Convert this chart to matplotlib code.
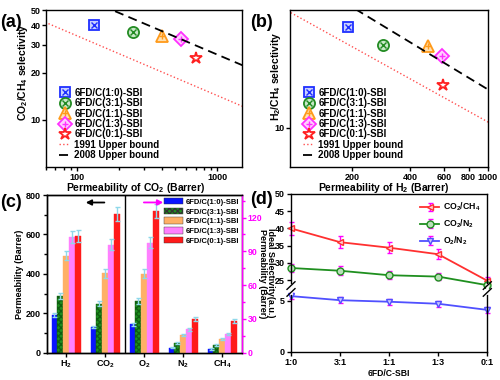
import matplotlib
matplotlib.use("Agg")
import matplotlib.pyplot as plt
import matplotlib.ticker as mticker
from matplotlib.patches import Patch
from matplotlib.lines import Line2D
import numpy as np

plt.rcParams.update({
    "font.family": ["Liberation Sans", "DejaVu Sans"],
    "font.weight": "bold",
    "axes.labelweight": "bold",
    "mathtext.fontset": "custom",
    "mathtext.rm": "Liberation Sans:bold",
    "mathtext.it": "Liberation Sans:bold",
    "mathtext.bf": "Liberation Sans:bold",
    "mathtext.default": "rm",
    "axes.linewidth": 1.0,
})

# --- data ---
samples = ["6FD/C(1:0)-SBI", "6FD/C(3:1)-SBI", "6FD/C(1:1)-SBI", "6FD/C(1:3)-SBI", "6FD/C(0:1)-SBI"]
ratios = ["1:0", "3:1", "1:1", "1:3", "0:1"]
gases = ["H$_2$", "CO$_2$", "O$_2$", "N$_2$", "CH$_4$"]

perm_h2 = [190, 290, 493, 585, 592]
perm_co2 = [132, 249, 402, 547, 703]
perm_o2 = [25.2, 46.0, 70.3, 97.6, 125.8]
perm_n2 = [4.4, 8.9, 16.0, 20.8, 30.0]
perm_ch4 = [3.3, 6.8, 11.9, 16.9, 28.2]
err_h2 = [10, 15, 25, 30, 30]
err_co2 = [6, 14, 22, 28, 35]
err_o2 = [1.5, 2.5, 4.0, 5.0, 6.5]
err_n2 = [0.6, 0.8, 1.0, 1.3, 1.5]
err_ch4 = [0.5, 0.6, 0.9, 1.0, 1.4]

sel_co2_ch4 = [40.0, 36.0, 34.4, 32.5, 24.8]
sel_h2_ch4 = [59.4, 43.5, 42.4, 35.6, 21.4]
sel_co2_n2 = [28.5, 27.7, 26.4, 26.0, 23.5]
sel_o2_n2 = [5.45, 5.05, 4.9, 4.7, 4.1]
err_co2_ch4 = [1.8, 1.7, 1.6, 1.5, 1.0]
err_co2_n2 = [1.3, 1.3, 1.2, 1.1, 0.8]
err_o2_n2 = [0.3, 0.3, 0.3, 0.3, 0.3]

# Robeson upper bounds (end points of the straight log-log lines)
ub1991_co2_x, ub1991_co2_y = [50, 2000], [44.6, 10.95]
ub2008_co2_x, ub2008_co2_y = [150, 2000], [53.4, 20.0]
ub1991_h2_x, ub1991_h2_y = [80, 1200], [89.5, 9.57]
ub2008_h2_x, ub2008_h2_y = [180, 1200], [93.0, 16.77]

# --- styles ---
mk_colors = ["#1f2fff", "#228b22", "#ff9a1a", "#ff30ff", "#ff2020"]
mk_faces = ["#c8d0ff", "#c8e8c8", "#ffe0b0", "#ffd0ff", "none"]
mk_base = ["s", "o", "^", "D", "*"]
mk_over = ["x", "x", "+", "+", None]
mk_size = [7, 8, 8, 7, 9]
bar_colors = ["#0a14ff", "#1f8f1f", "#ffb066", "#ff80ff", "#ff1a1a"]

fig = plt.figure(figsize=(5, 3.8), dpi=100)


def scatter_panel(ax, xs, ys, b91, b08):
    handles = []
    for i, name in enumerate(samples):
        h1, = ax.plot(xs[i], ys[i], ls="none", marker=mk_base[i], ms=mk_size[i],
                      mfc=mk_faces[i], mec=mk_colors[i], mew=1.3)
        hs = [h1]
        if mk_over[i]:
            h2, = ax.plot(xs[i], ys[i], ls="none", marker=mk_over[i], ms=mk_size[i] * 0.6,
                          mec=mk_colors[i], mew=1.0)
            hs.append(h2)
        handles.append(tuple(hs))
    l91, = ax.plot(b91[0], b91[1], ls=":", color="#ff5050", lw=1.0)
    l08, = ax.plot(b08[0], b08[1], color="black", lw=1.3, dashes=(5, 3))
    ax.set_xscale("log")
    ax.set_yscale("log")
    leg = ax.legend(handles + [l91, l08], samples + ["1991 Upper bound", "2008 Upper bound"],
                    loc="lower left", bbox_to_anchor=(0.03, 0.0), frameon=False, fontsize=7.0,
                    labelspacing=0.04, handlelength=1.2, handletextpad=0.4, borderaxespad=0.3)
    for t in leg.get_texts():
        t.set_fontweight("bold")
    ax.tick_params(which="both", direction="out", labelsize=6.5, width=1, length=3, pad=1.0)
    ax.tick_params(which="minor", length=2)
    for t in ax.get_xticklabels() + ax.get_yticklabels():
        t.set_fontweight("bold")


# (a)
ax_a = fig.add_axes([0.092, 0.5605, 0.392, 0.413])
scatter_panel(ax_a, perm_co2, sel_co2_ch4,
              (ub1991_co2_x, ub1991_co2_y), (ub2008_co2_x, ub2008_co2_y))
ax_a.set_xlim(60, 1500)
ax_a.set_ylim(5, 50)
ax_a.xaxis.set_major_locator(mticker.FixedLocator([100, 1000]))
ax_a.xaxis.set_major_formatter(mticker.FixedFormatter(["100", "1000"]))
ax_a.xaxis.set_minor_formatter(mticker.NullFormatter())
ax_a.yaxis.set_major_locator(mticker.FixedLocator([10, 20, 30, 40, 50]))
ax_a.yaxis.set_major_formatter(mticker.FixedFormatter(["10", "20", "30", "40", "50"]))
ax_a.yaxis.set_minor_locator(mticker.NullLocator())
ax_a.set_xlabel("Permeability of CO$_2$ (Barrer)", fontsize=7.5)
ax_a.set_ylabel("CO$_2$/CH$_4$ selectivity", fontsize=7.5)
ax_a.xaxis.set_label_coords(0.46, -0.088)
ax_a.yaxis.set_label_coords(-0.082, 0.6)

# (b)
ax_b = fig.add_axes([0.58, 0.5605, 0.395, 0.413])
scatter_panel(ax_b, perm_h2, sel_h2_ch4,
              (ub1991_h2_x, ub1991_h2_y), (ub2008_h2_x, ub2008_h2_y))
ax_b.set_xlim(96, 1000)
ax_b.set_ylim(5, 80)
ax_b.xaxis.set_major_locator(mticker.FixedLocator([200, 400, 600, 800, 1000]))
ax_b.xaxis.set_major_formatter(mticker.FixedFormatter(["200", "400", "600", "800", "1000"]))
ax_b.xaxis.set_minor_locator(mticker.NullLocator())
ax_b.yaxis.set_major_locator(mticker.FixedLocator([10]))
ax_b.yaxis.set_major_formatter(mticker.FixedFormatter(["10"]))
ax_b.yaxis.set_minor_locator(mticker.NullLocator())
ax_b.set_xlabel("Permeability of H$_2$ (Barrer)", fontsize=7.5)
ax_b.set_ylabel("H$_2$/CH$_4$ selectivity", fontsize=7.5)
ax_b.xaxis.set_label_coords(0.475, -0.088)
ax_b.yaxis.set_label_coords(-0.035, 0.58)

# (c)
ax_c = fig.add_axes([0.0934, 0.0718, 0.39, 0.415])
ax_r = ax_c.twinx()
groups = np.arange(len(gases))
width = 0.15
left_vals = [perm_h2, perm_co2]
left_errs = [err_h2, err_co2]
right_vals = [perm_o2, perm_n2, perm_ch4]
right_errs = [err_o2, err_n2, err_ch4]
for i, name in enumerate(samples):
    off = (i - 2) * width
    hatch = "xxxxxx" if i == 1 else None
    ec = "#0f5f0f" if i == 1 else bar_colors[i]
    lh = [v[i] for v in left_vals]
    le = [e[i] for e in left_errs]
    rh = [v[i] for v in right_vals]
    re = [e[i] for e in right_errs]
    ax_c.bar(groups[:2] + off, lh, width, color=bar_colors[i], edgecolor=ec, lw=0.3, hatch=hatch,
             yerr=le, ecolor="#8fd8ea", capsize=1.8, error_kw=dict(lw=1.0, capthick=1.0))
    ax_r.bar(groups[2:] + off, rh, width, color=bar_colors[i], edgecolor=ec, lw=0.3, hatch=hatch,
             yerr=re, ecolor="#8fd8ea", capsize=1.8, error_kw=dict(lw=1.0, capthick=1.0))
ax_c.set_xlim(-0.5, 4.5)
ax_c.set_ylim(0, 800)
ax_r.set_ylim(0, 140)
ax_c.axvline(1.5, color="black", lw=1.0)
ax_c.set_xticks(groups)
ax_c.set_xticklabels(gases, fontsize=7, fontweight="bold")
ax_c.set_yticks([0, 200, 400, 600, 800])
ax_c.yaxis.set_minor_locator(mticker.MultipleLocator(100))
ax_c.tick_params(which="both", direction="out", labelsize=6.5, width=1, length=3, pad=1.5)
ax_c.tick_params(which="minor", length=2)
ax_c.set_ylabel("Permeability (Barrer)", fontsize=6.5)
ax_c.yaxis.set_label_coords(-0.117, 0.5)
ax_r.set_yticks([0, 30, 60, 90, 120])
ax_r.yaxis.set_minor_locator(mticker.MultipleLocator(15))
ax_r.tick_params(which="both", direction="out", labelsize=6.3, width=1, length=3, pad=1.2,
                 colors="#ff00ff")
ax_r.tick_params(which="minor", length=2)
ax_r.spines["right"].set_color("#ff00ff")
ax_r.set_ylabel("Permeability (Barrer)", fontsize=6.5, rotation=270)
ax_r.yaxis.set_label_coords(1.128, 0.5)
for t in ax_c.get_yticklabels() + ax_r.get_yticklabels():
    t.set_fontweight("bold")
ax_c.annotate("", xy=(0.43, 762), xytext=(1.05, 762),
              arrowprops=dict(arrowstyle="-|>", color="black", lw=1.3, mutation_scale=8))
ax_r.annotate("", xy=(2.56, 133.4), xytext=(1.92, 133.4),
              arrowprops=dict(arrowstyle="-|>", color="#ff00ff", lw=1.3, mutation_scale=8))
patches = [Patch(facecolor=bar_colors[i], edgecolor="#333333", lw=0.3,
                 hatch="xxxxxx" if i == 1 else None) for i in range(len(samples))]
leg = ax_c.legend(patches, samples, loc="upper right", bbox_to_anchor=(1.01, 1.01), frameon=False,
                  fontsize=5.5, handlelength=2.4, handleheight=0.9, labelspacing=0.25,
                  handletextpad=0.4, borderaxespad=0.2)
for t in leg.get_texts():
    t.set_fontweight("bold")

# (d) broken axis
ax_dt = fig.add_axes([0.582, 0.2395, 0.3926, 0.25])
ax_db = fig.add_axes([0.582, 0.0745, 0.3926, 0.165], sharex=ax_dt)
xs = np.arange(len(ratios))
line_kw = dict(ms=5, mew=1.0, lw=1.3, clip_on=False, elinewidth=1.0,
               ecolor="#ff00ff", capsize=1.8, capthick=1.0)
h1 = ax_dt.errorbar(xs, sel_co2_ch4, yerr=err_co2_ch4, color="#ff3030", marker="<",
                    mfc="#ffd0d0", mec="#ff3030", **line_kw)
h2 = ax_dt.errorbar(xs, sel_co2_n2, yerr=err_co2_n2, color="#1f8f1f", marker="o",
                    mfc="#b8e0b8", mec="#1f8f1f", **line_kw)
h3 = ax_db.errorbar(xs, sel_o2_n2, yerr=err_o2_n2, color="#5050ff", marker="v",
                    mfc="#c8c8ff", mec="#5050ff", **line_kw)
ax_dt.set_ylim(22.4, 50)
ax_db.set_ylim(0, 6.15)
ax_dt.set_xlim(0, 4)
ax_dt.set_yticks([25, 30, 35, 40, 45, 50])
ax_db.set_yticks([0, 5])
ax_dt.spines["bottom"].set_visible(False)
ax_db.spines["top"].set_visible(False)
ax_dt.tick_params(axis="x", which="both", bottom=False, labelbottom=False)
ax_db.set_xticks(xs)
ax_db.set_xticklabels(ratios)
for a in (ax_dt, ax_db):
    a.tick_params(direction="out", labelsize=6.5, width=1, length=3, pad=1.5)
    for t in a.get_xticklabels() + a.get_yticklabels():
        t.set_fontweight("bold")
ax_db.set_xlabel("6FD/C-SBI", fontsize=6.2, labelpad=1.5)
fig.text(0.541, 0.282, "Ideal Selectivity(a.u.)", rotation=270, fontsize=6.5,
         fontweight="bold", ha="center", va="center")
# break marks
for xb in (0.0, 1.0):
    x0 = 0.582 + xb * 0.3926
    fig.add_artist(Line2D([x0, x0], [0.2285, 0.2505], color="white", lw=2.0))
    for dy in (-0.009, 0.009):
        fig.add_artist(Line2D([x0 - 0.008, x0 + 0.008],
                              [0.2395 + dy - 0.01, 0.2395 + dy + 0.01],
                              color="black", lw=1.0))
leg = ax_dt.legend([h1, h2, h3], ["CO$_2$/CH$_4$", "CO$_2$/N$_2$", "O$_2$/N$_2$"],
                   loc="upper right", frameon=False, fontsize=6.3, handlelength=2.2,
                   labelspacing=0.5, handletextpad=0.4, borderaxespad=0.4)
for t in leg.get_texts():
    t.set_fontweight("bold")

# panel labels
for x, y, s in [(0.0, 0.942, "(a)"), (0.5, 0.942, "(b)"), (0.0, 0.468, "(c)"), (0.5, 0.474, "(d)")]:
    fig.text(x, y, s, fontsize=13, fontweight="bold", va="center", ha="left")

fig.savefig("out.png", dpi=100)
